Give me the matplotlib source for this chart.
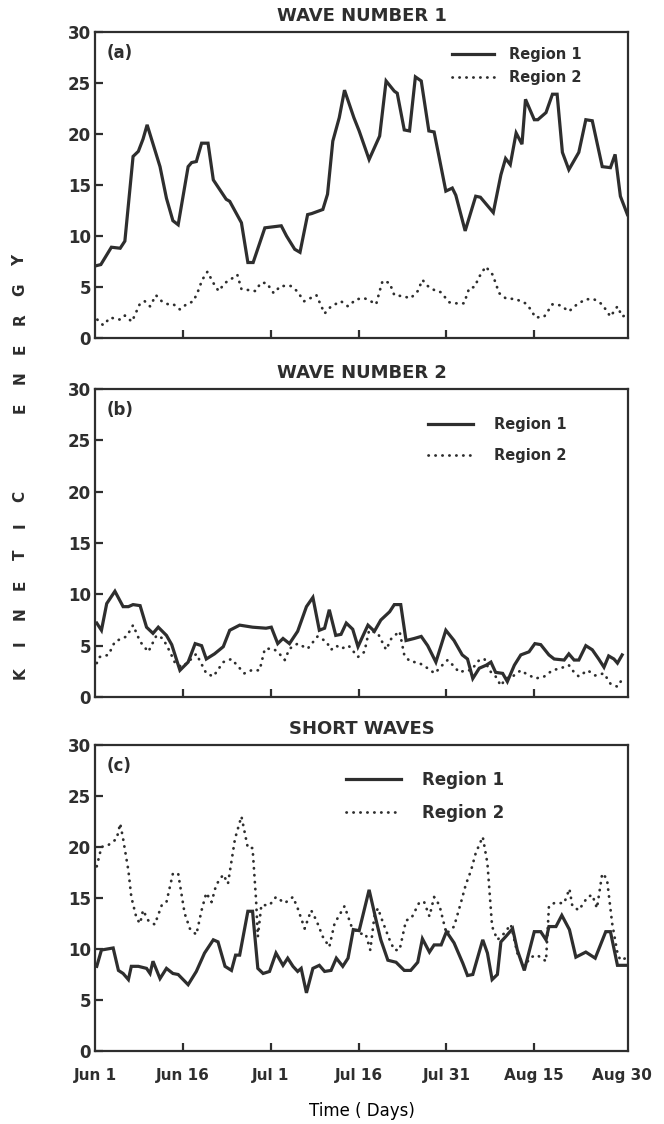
import matplotlib
matplotlib.use('Agg')
import matplotlib.pyplot as plt

# days since Jun 1 and kinetic energy
# (a) wave number 1
w1_r1_day = [0.3, 1.0, 2.8, 4.3, 5.1, 6.5, 7.4, 8.2, 8.9, 11.1, 12.2, 13.3, 14.2, 15.9, 16.5, 17.3,
             18.2, 19.3, 20.2, 22.4, 23.0, 25.0, 26.1, 27.0, 29.0, 30.4, 31.8, 32.7, 34.1, 35.0,
             36.3, 37.0, 38.9, 39.7, 40.6, 41.7, 42.6, 44.2, 45.1, 46.8, 48.6, 49.7, 51.1, 51.6,
             52.8, 53.7, 54.7, 55.7, 57.0, 57.9, 59.9, 61.0, 61.6, 63.2, 65.0, 65.8, 68.0, 69.3,
             70.1, 70.9, 71.9, 72.9, 73.5, 75.0, 75.6, 77.0, 78.1, 78.9, 79.8, 80.9, 82.6, 83.8,
             84.9, 86.6, 88.0, 88.8, 89.7, 90.9]
w1_r1_val = [7.1, 7.2, 8.9, 8.8, 9.5, 17.8, 18.3, 19.5, 20.9, 16.8, 13.7, 11.5, 11.1, 16.8, 17.2, 17.3,
             19.1, 19.1, 15.5, 13.6, 13.4, 11.3, 7.4, 7.4, 10.8, 10.9, 11.0, 10.0, 8.7, 8.4,
             12.1, 12.2, 12.6, 14.1, 19.3, 21.6, 24.3, 21.6, 20.3, 17.5, 19.8, 25.2, 24.2, 24.0,
             20.4, 20.3, 25.6, 25.2, 20.3, 20.2, 14.4, 14.7, 14.0, 10.5, 13.9, 13.8, 12.3, 16.0,
             17.6, 17.0, 20.1, 19.0, 23.4, 21.4, 21.4, 22.1, 23.9, 23.9, 18.2, 16.5, 18.2, 21.4,
             21.3, 16.8, 16.7, 18.0, 13.9, 12.1]
w1_r2_day = [0.4, 1.4, 2.6, 4.3, 5.1, 6.3, 7.7, 8.5, 9.4, 10.4, 11.4, 12.5, 13.4, 14.5, 15.6, 16.8,
             17.6, 18.3, 19.2, 20.2, 21.1, 22.2, 23.3, 24.3, 25.0, 26.2, 27.4, 28.3, 29.3, 30.5,
             31.7, 33.4, 34.5, 35.7, 37.8, 39.2, 40.3, 42.0, 43.2, 44.6, 46.0, 47.1, 48.0, 48.6,
             49.1, 50.3, 51.1, 52.5, 53.9, 55.1, 55.9, 56.8, 58.2, 59.0, 60.5, 61.6, 63.0, 63.9,
             64.8, 65.6, 66.7, 67.9, 69.0, 70.1, 71.9, 73.5, 74.4, 75.2, 76.7, 78.1, 79.5, 80.9,
             82.3, 83.8, 85.2, 86.6, 88.0, 89.2, 90.0, 90.9]
w1_r2_val = [1.8, 1.25, 2.0, 1.8, 2.2, 1.6, 3.4, 3.6, 3.1, 4.2, 3.6, 3.3, 3.3, 2.8, 3.3, 3.6,
             4.6, 5.7, 6.5, 5.4, 4.6, 5.4, 5.8, 6.2, 4.8, 4.7, 4.6, 5.4, 5.4, 4.4,
             5.1, 5.1, 4.6, 3.6, 4.2, 2.4, 3.1, 3.6, 3.1, 3.8, 3.9, 3.6, 3.3, 4.6,
             5.6, 5.4, 4.2, 4.1, 3.9, 4.6, 5.7, 5.1, 4.6, 4.5, 3.5, 3.4, 3.4, 4.9,
             5.0, 6.0, 7.0, 6.2, 4.4, 3.9, 3.8, 3.4, 2.8, 2.0, 2.1, 3.3, 3.2, 2.6,
             3.3, 3.8, 3.8, 3.3, 2.1, 3.1, 2.1, 2.3]

# (b) wave number 2
w2_r1_day = [0.3, 1.1, 2.0, 3.4, 4.8, 5.7, 6.5, 7.7, 8.8, 9.9, 10.8, 12.2, 13.1, 14.5, 15.9, 17.1,
             18.2, 19.0, 20.4, 21.9, 23.0, 24.7, 26.9, 29.2, 30.1, 31.2, 32.1, 33.2, 34.6, 36.1,
             37.2, 38.3, 39.2, 40.0, 41.1, 42.0, 42.9, 44.0, 44.9, 45.7, 46.6, 47.7, 48.8, 50.3,
             51.1, 52.2, 53.1, 54.5, 55.7, 56.8, 58.2, 59.9, 61.3, 62.7, 63.6, 64.5, 65.6, 66.8,
             67.6, 68.4, 69.6, 70.4, 71.6, 72.7, 74.1, 75.1, 76.1, 77.5, 78.4, 80.1, 80.9, 81.8,
             82.6, 83.8, 84.9, 86.0, 86.9, 87.7, 88.6, 89.2, 90.0]
w2_r1_val = [7.2, 6.5, 9.1, 10.3, 8.8, 8.8, 9.0, 8.9, 6.8, 6.2, 6.8, 6.0, 5.1, 2.6, 3.4, 5.2,
             5.0, 3.7, 4.2, 4.9, 6.5, 7.0, 6.8, 6.7, 6.8, 5.2, 5.7, 5.2, 6.4, 8.8,
             9.7, 6.5, 6.7, 8.5, 6.0, 6.1, 7.2, 6.6, 4.9, 5.9, 7.0, 6.4, 7.5, 8.3,
             9.0, 9.0, 5.5, 5.7, 5.9, 5.0, 3.4, 6.5, 5.5, 4.1, 3.7, 1.8, 2.8, 3.1,
             3.4, 2.4, 2.3, 1.5, 3.1, 4.1, 4.4, 5.2, 5.1, 4.1, 3.7, 3.6, 4.2, 3.6,
             3.6, 5.0, 4.6, 3.7, 2.9, 4.0, 3.7, 3.3, 4.1]
w2_r2_day = [0.3, 0.8, 2.3, 3.4, 5.4, 6.5, 7.7, 9.1, 10.5, 11.6, 12.8, 13.6, 14.8, 15.9, 17.3,
             19.0, 20.2, 21.9, 23.3, 25.5, 26.7, 28.1, 29.0, 30.4, 31.2, 32.4, 33.2, 34.6, 36.3,
             38.0, 39.5, 40.3, 41.2, 42.0, 43.3, 44.9, 46.0, 46.8, 48.3, 49.7, 50.6, 52.0, 52.8,
             53.7, 55.4, 56.8, 58.0, 59.3, 60.2, 61.1, 62.2, 63.3, 64.2, 65.6, 66.5, 67.3, 68.4,
             69.3, 70.1, 71.3, 72.7, 73.5, 75.2, 76.7, 78.1, 79.5, 80.9, 81.8, 82.6, 84.1, 85.4,
             86.9, 88.0, 89.2, 90.3]
w2_r2_val = [3.3, 3.9, 4.1, 5.4, 5.9, 7.0, 5.4, 4.4, 6.0, 5.7, 4.4, 3.4, 2.9, 3.4, 4.2,
             2.3, 2.0, 3.4, 3.7, 2.3, 2.6, 2.6, 4.7, 4.7, 4.4, 3.6, 4.7, 5.2, 4.7,
             5.9, 5.4, 4.6, 5.0, 4.7, 5.0, 3.9, 4.4, 6.5, 6.2, 4.6, 5.7, 6.4, 4.1,
             3.5, 3.3, 2.8, 2.3, 3.1, 3.6, 3.1, 2.4, 2.6, 2.6, 3.6, 3.7, 2.6, 2.0,
             1.1, 1.8, 2.0, 2.6, 2.3, 1.8, 2.0, 2.6, 2.8, 3.1, 2.4, 2.0, 2.6, 2.1,
             2.3, 1.3, 1.0, 2.0]

# (c) short waves
sw_r1_day = [0.3, 1.1, 3.1, 4.0, 4.8, 5.7, 6.2, 7.4, 8.8, 9.4, 9.9, 11.1, 12.2, 13.3, 14.2, 15.9,
             17.3, 18.7, 20.2, 21.0, 22.2, 23.3, 24.0, 24.7, 26.1, 26.9, 27.8, 28.7, 29.8, 30.9,
             32.1, 32.9, 33.8, 34.6, 35.2, 36.1, 37.2, 38.3, 39.2, 40.3, 41.2, 42.3, 43.2, 44.1,
             45.1, 46.8, 48.0, 48.8, 50.0, 51.4, 52.8, 53.9, 55.1, 55.9, 57.1, 57.9, 59.1, 60.0,
             61.3, 62.8, 63.6, 64.5, 66.2, 67.0, 67.8, 68.7, 69.3, 70.1, 71.3, 72.1, 73.3, 74.1,
             75.0, 76.1, 77.0, 77.5, 78.7, 79.7, 81.0, 82.1, 83.8, 85.4, 87.2, 88.0, 89.2, 90.6]
sw_r1_val = [8.3, 9.9, 10.1, 7.9, 7.6, 7.0, 8.3, 8.3, 8.1, 7.6, 8.8, 7.1, 8.1, 7.6, 7.5, 6.5,
             7.8, 9.6, 10.9, 10.7, 8.3, 7.9, 9.4, 9.4, 13.7, 13.7, 8.1, 7.6, 7.8, 9.6,
             8.4, 9.1, 8.3, 7.8, 8.1, 5.7, 8.1, 8.4, 7.8, 7.9, 9.1, 8.3, 9.1, 11.9,
             11.8, 15.8, 12.8, 10.9, 8.9, 8.7, 7.9, 7.9, 8.7, 11.0, 9.7, 10.4, 10.4, 11.7,
             10.6, 8.6, 7.4, 7.5, 10.9, 9.6, 7.0, 7.5, 10.7, 11.2, 12.0, 9.9, 7.9, 9.7,
             11.7, 11.7, 10.9, 12.2, 12.2, 13.3, 11.9, 9.2, 9.7, 9.1, 11.7, 11.7, 8.4, 8.4]
sw_r2_day = [0.3, 1.1, 2.3, 3.7, 4.3, 4.8, 5.7, 6.2, 7.1, 7.7, 8.2, 9.1, 10.2, 11.4, 12.2, 13.3,
             14.2, 15.3, 16.2, 17.3, 18.2, 19.0, 19.9, 20.7, 21.9, 22.7, 23.9, 25.0, 26.1, 26.9,
             27.5, 27.8, 28.4, 29.8, 30.9, 32.4, 33.8, 34.6, 35.8, 36.9, 37.8, 38.9, 40.0, 40.9,
             42.6, 43.8, 45.1, 46.2, 47.0, 47.7, 48.3, 49.1, 50.3, 51.1, 52.0, 53.1, 54.0, 55.4,
             56.2, 57.1, 57.9, 58.8, 60.0, 61.3, 62.5, 63.3, 64.2, 65.0, 66.2, 67.0, 67.8, 68.7,
             69.8, 71.0, 72.1, 73.3, 74.4, 75.5, 77.0, 77.5, 78.4, 80.1, 81.0, 81.5, 82.6, 84.1,
             84.9, 85.7, 86.6, 87.4, 88.3, 89.2, 89.7, 90.6]
sw_r2_val = [18.1, 20.0, 20.2, 20.8, 22.3, 20.8, 17.7, 15.1, 13.0, 12.5, 13.8, 12.8, 12.4, 14.3,
             14.6, 17.4, 17.4, 13.5, 12.0, 11.4, 13.8, 15.5, 14.6, 16.3, 17.3, 16.4, 20.8, 23.0,
             19.9, 19.9, 14.8, 11.2, 14.3, 14.3, 15.1, 14.5, 15.1, 14.0, 12.0, 13.8, 12.8, 11.2,
             10.2, 12.5, 14.2, 12.2, 11.5, 11.5, 9.9, 13.2, 14.0, 12.7, 10.9, 9.9, 9.9, 12.8,
             13.0, 14.6, 14.6, 13.2, 15.1, 14.3, 11.5, 12.2, 14.6, 16.3, 17.7, 19.4, 21.0, 18.4,
             12.2, 10.9, 11.5, 12.4, 9.6, 8.3, 9.2, 9.4, 8.8, 14.2, 14.5, 14.5, 15.9, 14.2,
             13.8, 15.1, 15.3, 14.0, 17.4, 16.9, 12.5, 9.6, 8.9, 9.1]

tick_days = [0, 15, 30, 45, 60, 75, 90]
tick_labels = ['Jun 1', 'Jun 16', 'Jul 1', 'Jul 16', 'Jul 31', 'Aug 15', 'Aug 30']
titles = ['WAVE NUMBER 1', 'WAVE NUMBER 2', 'SHORT WAVES']
tags = ['(a)', '(b)', '(c)']

ink = '#2e2e2e'
plt.rcParams['font.family'] = 'DejaVu Sans'
plt.rcParams['font.weight'] = 'bold'
plt.rcParams['text.color'] = ink

fig = plt.figure(figsize=(6.64, 11.24), dpi=100)
W, H = 664.0, 1124.0
# panel boxes in pixels: (top, bottom)
boxes = [(32, 338), (389, 697), (745, 1051)]
x0, x1 = 95, 628

series = [(w1_r1_day, w1_r1_val, w1_r2_day, w1_r2_val),
          (w2_r1_day, w2_r1_val, w2_r2_day, w2_r2_val),
          (sw_r1_day, sw_r1_val, sw_r2_day, sw_r2_val)]
# legend: anchor (axes frac), handlelength, textpad, labelspacing, fontsize
leg_opts = [((0.67, 0.89), 2.9, 1.0, 0.55, 10.5),
            ((0.625, 0.834), 3.1, 1.4, 1.05, 10.5),
            ((0.47, 0.833), 3.3, 1.3, 0.9, 12)]

for i in range(3):
    top, bot = boxes[i]
    ax = fig.add_axes([x0 / W, 1 - bot / H, (x1 - x0) / W, (bot - top) / H])
    d1, v1, d2, v2 = series[i]
    ax.plot(d1, v1, color=ink, lw=2.3, solid_joinstyle='miter', label='Region 1')
    ax.plot(d2, v2, color=ink, lw=2.0, linestyle=(0, (0.1, 2.4)), dash_capstyle='round',
            label='Region 2')
    ax.set_xlim(0, 91)
    ax.set_ylim(0, 30)
    ax.set_yticks(range(0, 31, 5))
    ax.set_xticks(tick_days)
    if i == 2:
        ax.set_xticklabels(tick_labels, fontsize=11)
    else:
        ax.set_xticklabels([])
    ax.tick_params(axis='y', direction='in', length=6, width=1.6, pad=3, labelsize=12,
                   colors=ink)
    ax.tick_params(axis='x', direction='in', length=6, width=1.6, pad=12, colors=ink)
    xt = ax.xaxis.get_major_ticks()
    xt[0].tick1line.set_visible(False)
    xt[-1].tick1line.set_visible(False)
    for s in ax.spines.values():
        s.set_linewidth(1.6)
        s.set_color(ink)
    ax.set_title(titles[i], fontsize=13, fontweight='bold', pad=8, color=ink)
    ax.text(0.022, 0.96, tags[i], transform=ax.transAxes, ha='left', va='top', fontsize=12)
    anchor, hl, tp, ls, fs = leg_opts[i]
    ax.legend(loc='center left', bbox_to_anchor=anchor, frameon=False, handlelength=hl,
              handletextpad=tp, labelspacing=ls, borderpad=0, borderaxespad=0,
              prop={'size': fs, 'weight': 'bold'})
    if i == 2:
        ax.set_xlabel('Time ( Days)', fontsize=12, labelpad=14)

# spaced vertical axis label
label = 'KINETIC  ENERGY'
ys = 673
for ch in label:
    if ch != ' ':
        fig.text(20 / W, 1 - ys / H, ch, rotation=90, ha='center', va='center', fontsize=11)
    ys -= 29.5

fig.savefig('out.png', dpi=100, facecolor='white')
